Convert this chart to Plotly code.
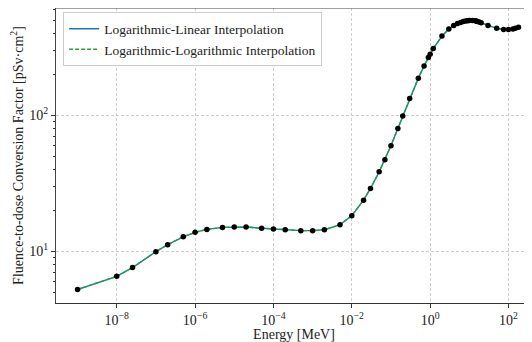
import plotly.graph_objects as go

# ICRP-74 style neutron fluence-to-dose conversion factors
energy_mev = [1e-9, 1e-8, 2.53e-8, 1e-7, 2e-7, 5e-7, 1e-6, 2e-6, 5e-6, 1e-5, 2e-5, 5e-5,
              1e-4, 2e-4, 5e-4, 1e-3, 2e-3, 5e-3, 1e-2, 2e-2, 3e-2, 5e-2, 7e-2, 1e-1,
              1.5e-1, 2e-1, 3e-1, 5e-1, 7e-1, 9e-1, 1.0, 1.2, 2.0, 3.0, 4.0, 5.0, 6.0,
              7.0, 8.0, 9.0, 10.0, 12.0, 14.0, 15.0, 16.0, 18.0, 20.0, 30.0, 50.0,
              75.0, 100.0, 130.0, 150.0, 180.0]
factor = [5.24, 6.55, 7.60, 9.95, 11.2, 12.8, 13.8, 14.5, 15.0, 15.1, 15.1, 14.8,
          14.6, 14.4, 14.2, 14.2, 14.4, 15.7, 18.3, 23.8, 29.0, 38.5, 47.2, 59.8,
          80.2, 99.0, 133, 188, 231, 267, 282, 310, 383, 432, 458, 474, 483,
          490, 494, 497, 499, 499, 496, 494, 491, 486, 480, 458, 437,
          429, 429, 432, 438, 445]

x_tickvals = [1e-8, 1e-6, 1e-4, 1e-2, 1e0, 1e2]
x_ticktext = ["10<sup>−8</sup>", "10<sup>−6</sup>", "10<sup>−4</sup>", "10<sup>−2</sup>",
              "10<sup>0</sup>", "10<sup>2</sup>"]
y_tickvals = [10, 100]
y_ticktext = ["10<sup>1</sup>", "10<sup>2</sup>"]
y_minor = [4, 5, 6, 7, 8, 9, 20, 30, 40, 50, 60, 70, 80, 90, 200, 300, 400, 500, 600]

FONT = "Liberation Serif"

fig = go.Figure()
fig.add_trace(go.Scatter(x=energy_mev, y=factor, mode="lines",
                         name="Logarithmic-Linear Interpolation",
                         line=dict(color="#1f77b4", width=1.4)))
fig.add_trace(go.Scatter(x=energy_mev, y=factor, mode="lines",
                         name="Logarithmic-Logarithmic Interpolation",
                         line=dict(color="#2ca02c", width=1.4, dash="4px,2px")))
fig.add_trace(go.Scatter(x=energy_mev, y=factor, mode="markers", showlegend=False,
                         marker=dict(color="black", size=5.5)))

# page body has an 8px margin: figure is offset by (8, 8) in the window
fig.update_layout(
    width=524, height=334,
    margin=dict(l=48, r=0, t=0, b=39),
    paper_bgcolor="white", plot_bgcolor="white",
    font=dict(family=FONT, size=14, color="#222"),
    legend=dict(x=0.015, y=0.985, xanchor="left", yanchor="top",
                bgcolor="white", bordercolor="#cccccc", borderwidth=1,
                font=dict(family=FONT, size=13.5), tracegroupgap=0),
    shapes=[dict(type="line", xref="paper", yref="paper", x0=0, x1=1, y0=1, y1=1,
                 line=dict(color="#444", width=1.2))],
)
fig.update_xaxes(type="log", range=[-9.55, 2.6], automargin=False,
                 tickmode="array", tickvals=x_tickvals, ticktext=x_ticktext,
                 ticks="outside", ticklen=4, tickcolor="#333",
                 showline=True, linecolor="#333", linewidth=1.2,
                 showgrid=True, gridcolor="#cfcfcf", griddash="3px,2px", gridwidth=0.8,
                 zeroline=False,
                 title=dict(text="Energy [MeV]", standoff=2, font=dict(size=14)),
                 tickfont=dict(size=14))
fig.update_yaxes(type="log", range=[0.620, 2.790], automargin=False,
                 tickmode="array", tickvals=y_tickvals, ticktext=y_ticktext,
                 ticks="outside", ticklen=4, tickcolor="#333",
                 minor=dict(tickmode="array", tickvals=y_minor, ticks="outside",
                            ticklen=2, tickcolor="#333", showgrid=False),
                 showline=True, linecolor="#444", linewidth=1.2,
                 showgrid=True, gridcolor="#cfcfcf", griddash="3px,2px", gridwidth=0.8,
                 zeroline=False,
                 title=dict(text="Fluence-to-dose Conversion Factor [pSv·cm<sup>2</sup>]",
                            standoff=4, font=dict(size=14)),
                 tickfont=dict(size=14))

fig.write_html("out.html")
